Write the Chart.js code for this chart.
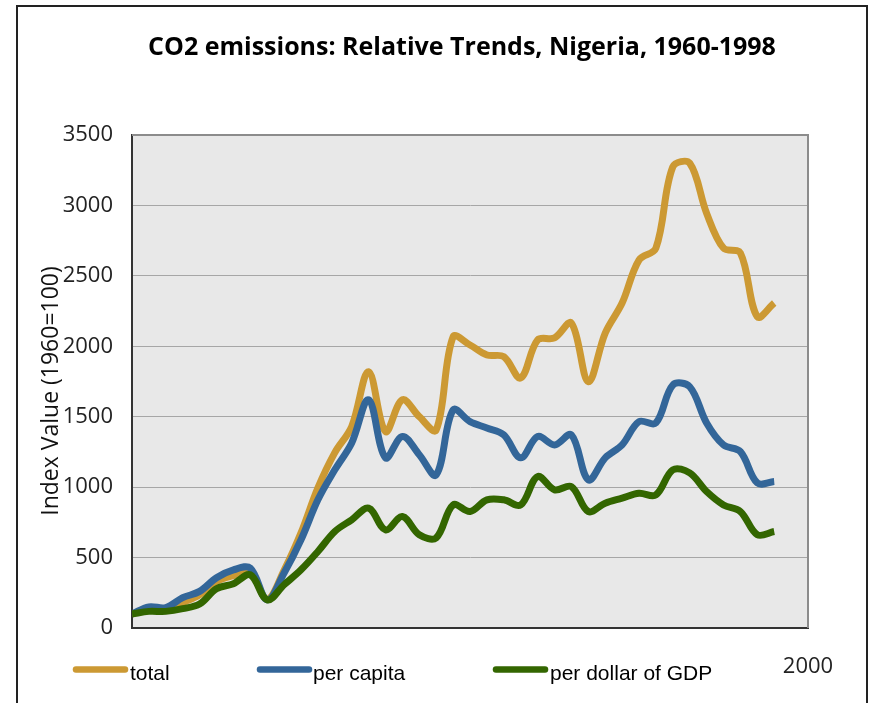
<!DOCTYPE html>
<html lang="en">
  <head>
    <meta charset="UTF-8" />
    <title>CO2 emissions: Relative Trends, Nigeria</title>
    <script src="https://cdn.jsdelivr.net/npm/chart.js"></script>
    <style>
      html,
      body {
        margin: 0;
        padding: 0;
        background: #fff;
      }
      .wrap {
        width: 876px;
        height: 703px;
      }
    </style>
  </head>
  <body>
    <div class="wrap">
      <canvas id="myChart" width="876" height="703"></canvas>
    </div>
  </body>
</html>

<script>
  // index values, 1960 = 100
  const years = [
    1960, 1961, 1962, 1963, 1964, 1965, 1966, 1967, 1968, 1969, 1970, 1971,
    1972, 1973, 1974, 1975, 1976, 1977, 1978, 1979, 1980, 1981, 1982, 1983,
    1984, 1985, 1986, 1987, 1988, 1989, 1990, 1991, 1992, 1993, 1994, 1995,
    1996, 1997, 1998,
  ];
  const total = [
    100, 135, 130, 180, 236, 330, 372, 395, 205, 410, 675, 995, 1245, 1430,
    1820, 1395, 1620, 1500, 1406, 2068, 2009, 1938, 1926, 1775, 2045, 2059,
    2165, 1749, 2094, 2307, 2612, 2697, 3274, 3300, 2945, 2697, 2662, 2210,
    2307,
  ];
  const perCapita = [
    100, 150, 145, 215, 260, 357, 413, 425, 200, 390, 626, 910, 1123, 1314,
    1620, 1208, 1360, 1230, 1087, 1548, 1465, 1420, 1371, 1208, 1359, 1300,
    1371, 1052, 1208, 1300, 1465, 1456, 1725, 1713, 1456, 1300, 1252, 1030,
    1040,
  ];
  const perGdp = [
    100, 118, 118, 137, 170, 279, 314, 378, 200, 307, 413, 543, 685, 768, 851,
    697, 791, 662, 640, 874, 827, 910, 910, 874, 1075, 981, 1004, 827, 886,
    922, 957, 945, 1123, 1101, 969, 874, 827, 662, 685,
  ];
  const seriesNames = ["total", "per capita", "per dollar of GDP"];
  const yTicks = [0, 500, 1000, 1500, 2000, 2500, 3000, 3500];
  const xLabel = 2000;

  const colors = ["#CC9933", "#336699", "#336600"];

  function points(vals) {
    return years.map((y, i) => ({ x: y, y: vals[i] }));
  }

  const extras = {
    id: "extras",
    beforeDraw(chart) {
      const { ctx, chartArea: a } = chart;
      ctx.save();
      ctx.fillStyle = "#E8E8E8";
      ctx.fillRect(a.left, a.top, a.right - a.left, a.bottom - a.top);
      ctx.restore();
    },
    afterDraw(chart) {
      const { ctx, chartArea: a } = chart;
      ctx.save();

      // top / right edge of the plot
      ctx.strokeStyle = "#8C8C8C";
      ctx.lineWidth = 2;
      ctx.beginPath();
      ctx.moveTo(a.left, a.top);
      ctx.lineTo(a.right, a.top);
      ctx.lineTo(a.right, a.bottom);
      ctx.stroke();

      // outer frame
      ctx.strokeStyle = "#222";
      ctx.lineWidth = 2;
      ctx.strokeRect(17, 6, 850, 800);

      // title
      ctx.fillStyle = "#000";
      ctx.font = "bold 25px 'Open Sans'";
      ctx.textAlign = "center";
      ctx.textBaseline = "middle";
      ctx.fillText("CO2 emissions: Relative Trends, Nigeria, 1960-1998", 462, 48);

      // y axis title
      ctx.save();
      ctx.translate(51, 391);
      ctx.rotate(-Math.PI / 2);
      ctx.font = "23px 'Open Sans'";
      ctx.fillStyle = "#111";
      ctx.fillText("Index Value (1960=100)", 0, 0);
      ctx.restore();

      // legend
      const items = [
        { x0: 76, tx: 130 },
        { x0: 260, tx: 313 },
        { x0: 496, tx: 550 },
      ];
      ctx.font = "21px 'Liberation Sans'";
      ctx.textAlign = "left";
      ctx.textBaseline = "alphabetic";
      ctx.lineCap = "round";
      items.forEach((it, i) => {
        ctx.strokeStyle = colors[i];
        ctx.lineWidth = 6.5;
        ctx.beginPath();
        ctx.moveTo(it.x0, 669.5);
        ctx.lineTo(it.x0 + 49, 669.5);
        ctx.stroke();
        ctx.fillStyle = "#000";
        ctx.fillText(seriesNames[i], it.tx, 680);
      });

      ctx.restore();
    },
  };

  const ds = [total, perCapita, perGdp].map((vals, i) => ({
    label: seriesNames[i],
    data: points(vals),
    borderColor: colors[i],
    backgroundColor: colors[i],
    borderWidth: 7,
    pointRadius: 0,
    tension: 0.35,
    fill: false,
    order: 2 - i,
  }));

  let chart = new Chart(document.getElementById("myChart"), {
    type: "line",
    data: { datasets: ds },
    plugins: [extras],
    options: {
      responsive: false,
      animation: false,
      layout: { padding: { top: 135, right: 68, bottom: 0, left: 0 } },
      plugins: {
        legend: { display: false },
        title: { display: false },
        tooltip: { enabled: false },
      },
      scales: {
        x: {
          type: "linear",
          min: 1960,
          max: 2000,
          afterBuildTicks: (s) => {
            s.ticks = [{ value: xLabel }];
          },
          afterFit: (s) => {
            s.height = 75;
          },
          grid: { display: false },
          border: { display: true, color: "#333", width: 2 },
          ticks: {
            padding: 18,
            maxRotation: 0,
            color: "#222",
            font: { family: "Open Sans", size: 22 },
            callback: (v) => (v === xLabel ? String(v) : ""),
          },
        },
        y: {
          min: 0,
          max: 3500,
          afterBuildTicks: (s) => {
            s.ticks = yTicks.map((v) => ({ value: v }));
          },
          afterFit: (s) => {
            s.width = 132;
          },
          grid: { color: "#A6A6A6", lineWidth: 1, drawTicks: false },
          border: { display: true, color: "#333", width: 2 },
          ticks: {
            padding: 19,
            color: "#222",
            font: { family: "Open Sans", size: 22 },
            callback: (v) => String(v),
          },
        },
      },
    },
  });
</script>
